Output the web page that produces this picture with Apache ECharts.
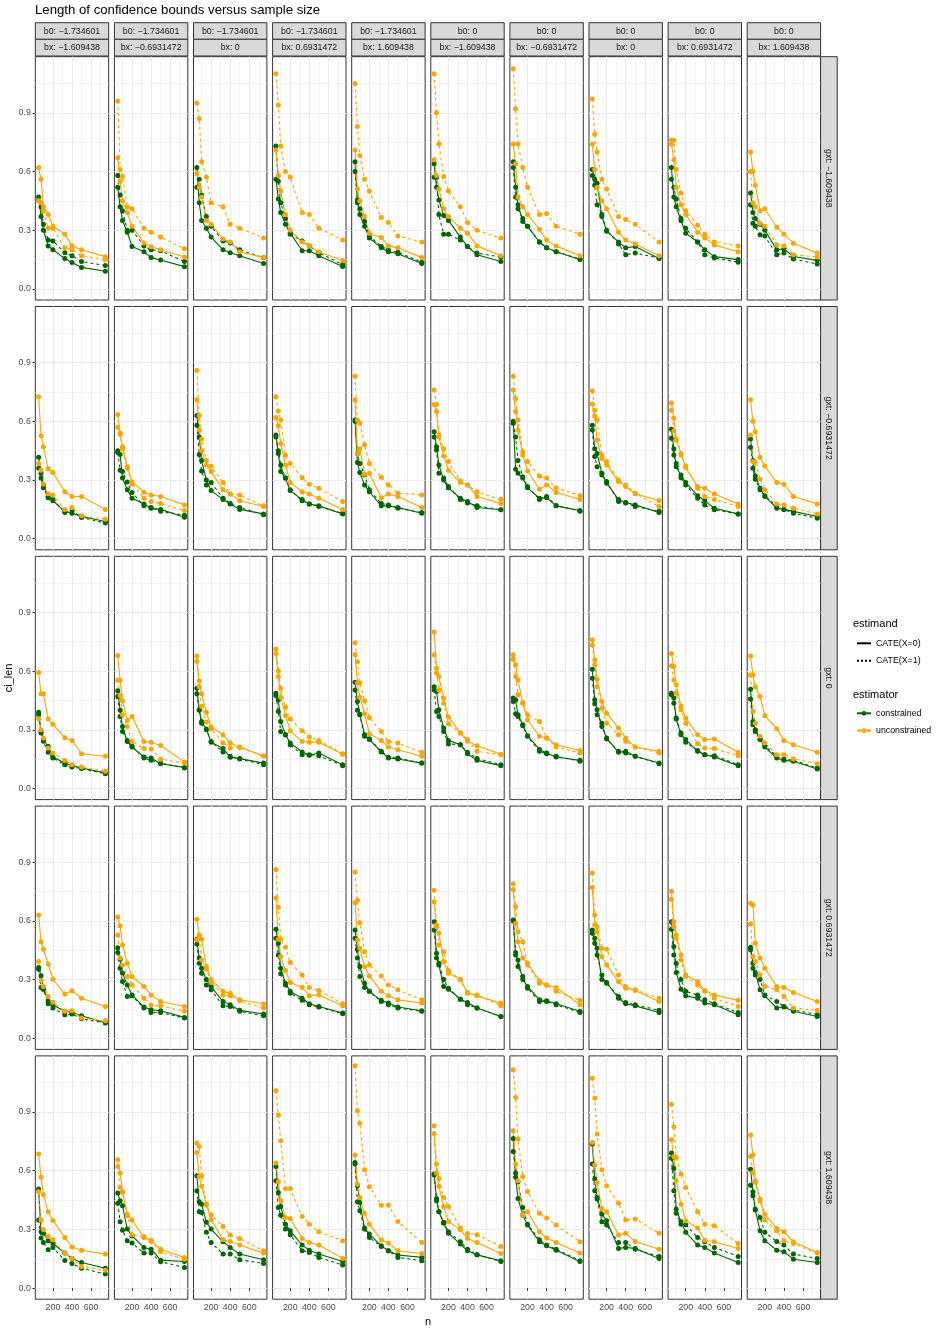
<!DOCTYPE html>
<html>
<head>
<meta charset="utf-8">
<script src="https://cdn.jsdelivr.net/npm/echarts@6/dist/echarts.min.js"></script>
<style>
  html, body { margin: 0; padding: 0; background: #fff; }
  #main { width: 941px; height: 1332px; }
</style>
</head>
<body>
<div id="main"></div>
<script>
// sample sizes (x) shared by every panel
const nValues = [50, 75, 100, 150, 200, 325, 400, 500, 750];

// facet labels: columns (b0, bx) and rows (gxt)
const b0Labels = ['b0: −1.734601', 'b0: −1.734601', 'b0: −1.734601', 'b0: −1.734601', 'b0: −1.734601',
                  'b0: 0', 'b0: 0', 'b0: 0', 'b0: 0', 'b0: 0'];
const bxLabels = ['bx: −1.609438', 'bx: −0.6931472', 'bx: 0', 'bx: 0.6931472', 'bx: 1.609438',
                  'bx: −1.609438', 'bx: −0.6931472', 'bx: 0', 'bx: 0.6931472', 'bx: 1.609438'];
const gxtLabels = ['gxt: −1.609438', 'gxt: −0.6931472', 'gxt: 0', 'gxt: 0.6931472', 'gxt: 1.609438'];

const yTicks = [0, 0.3, 0.6, 0.9];
const yMinor = [0.15, 0.45, 0.75, 1.05];
const xTicks = [200, 400, 600];
const xMinor = [100, 300, 500, 700];

// ci_len, one row of 9 values (per n) for each panel, row-major (gxt row, then column)
const constrainedX0 = [
  // gxt -1.609438
  [0.47,0.37,0.30,0.22,0.20,0.155,0.135,0.11,0.09], [0.52,0.42,0.35,0.29,0.217,0.19,0.16,0.148,0.114],
  [0.62,0.44,0.35,0.31,0.265,0.20,0.185,0.17,0.13], [0.56,0.46,0.39,0.33,0.285,0.195,0.195,0.17,0.115],
  [0.65,0.455,0.38,0.32,0.26,0.21,0.19,0.18,0.13], [0.64,0.52,0.455,0.375,0.35,0.265,0.217,0.175,0.14],
  [0.65,0.52,0.43,0.345,0.32,0.24,0.21,0.19,0.15], [0.61,0.56,0.54,0.37,0.295,0.24,0.21,0.217,0.155],
  [0.62,0.47,0.42,0.35,0.285,0.24,0.20,0.165,0.15], [0.49,0.39,0.36,0.33,0.30,0.20,0.204,0.166,0.146],
  // gxt -0.6931472
  [0.416,0.334,0.275,0.216,0.194,0.14,0.13,0.114,0.088], [0.45,0.43,0.31,0.25,0.207,0.178,0.156,0.15,0.11],
  [0.63,0.52,0.40,0.30,0.246,0.20,0.178,0.15,0.127], [0.53,0.436,0.343,0.31,0.246,0.20,0.177,0.168,0.126],
  [0.606,0.39,0.338,0.275,0.24,0.168,0.168,0.16,0.13], [0.547,0.47,0.377,0.30,0.26,0.207,0.19,0.16,0.148],
  [0.60,0.355,0.334,0.31,0.26,0.207,0.21,0.168,0.144], [0.58,0.46,0.436,0.334,0.284,0.2,0.185,0.173,0.134],
  [0.56,0.46,0.368,0.326,0.287,0.22,0.195,0.156,0.127], [0.51,0.40,0.32,0.258,0.216,0.156,0.15,0.14,0.114],
  // gxt 0
  [0.39,0.292,0.25,0.216,0.161,0.13,0.117,0.105,0.08], [0.50,0.40,0.317,0.24,0.212,0.161,0.156,0.127,0.108],
  [0.513,0.40,0.343,0.304,0.236,0.204,0.16,0.153,0.13], [0.487,0.453,0.343,0.275,0.233,0.187,0.17,0.182,0.122],
  [0.543,0.445,0.38,0.275,0.25,0.187,0.156,0.151,0.13], [0.52,0.496,0.402,0.309,0.246,0.224,0.178,0.144,0.117],
  [0.462,0.453,0.377,0.326,0.27,0.2,0.182,0.161,0.144], [0.61,0.453,0.402,0.317,0.258,0.185,0.19,0.165,0.13],
  [0.487,0.462,0.355,0.275,0.25,0.19,0.173,0.161,0.117], [0.507,0.343,0.30,0.253,0.212,0.156,0.144,0.139,0.10],
  // gxt 0.6931472
  [0.362,0.32,0.26,0.19,0.17,0.138,0.132,0.115,0.08], [0.463,0.404,0.333,0.273,0.222,0.16,0.146,0.141,0.107],
  [0.506,0.41,0.358,0.30,0.265,0.188,0.172,0.143,0.124], [0.557,0.486,0.358,0.282,0.24,0.205,0.177,0.163,0.129],
  [0.554,0.455,0.367,0.282,0.24,0.194,0.18,0.16,0.141], [0.596,0.435,0.375,0.265,0.251,0.2,0.183,0.155,0.112],
  [0.604,0.426,0.40,0.30,0.265,0.197,0.192,0.177,0.138], [0.554,0.511,0.46,0.30,0.285,0.205,0.177,0.166,0.132],
  [0.596,0.469,0.336,0.251,0.217,0.205,0.18,0.172,0.121], [0.465,0.384,0.336,0.248,0.217,0.155,0.16,0.138,0.112],
  // gxt 1.609438
  [0.506,0.288,0.281,0.242,0.228,0.179,0.152,0.131,0.102], [0.486,0.446,0.421,0.302,0.267,0.208,0.199,0.143,0.136],
  [0.574,0.441,0.429,0.336,0.302,0.237,0.208,0.174,0.145], [0.622,0.489,0.417,0.327,0.293,0.22,0.194,0.174,0.136],
  [0.642,0.523,0.438,0.307,0.276,0.216,0.191,0.169,0.157], [0.583,0.458,0.39,0.332,0.281,0.225,0.191,0.17,0.14],
  [0.765,0.566,0.458,0.373,0.322,0.237,0.216,0.194,0.136], [0.736,0.557,0.463,0.378,0.344,0.203,0.208,0.203,0.152],
  [0.69,0.612,0.404,0.339,0.285,0.22,0.208,0.179,0.131], [0.608,0.492,0.399,0.293,0.242,0.194,0.186,0.148,0.131]
];

const constrainedX1 = [
  [0.45,0.42,0.33,0.25,0.245,0.185,0.17,0.14,0.12], [0.58,0.48,0.40,0.30,0.30,0.22,0.20,0.195,0.14],
  [0.52,0.56,0.48,0.37,0.32,0.245,0.235,0.20,0.16], [0.73,0.55,0.44,0.36,0.28,0.245,0.22,0.185,0.125],
  [0.60,0.44,0.41,0.345,0.27,0.217,0.20,0.187,0.137], [0.57,0.57,0.38,0.28,0.28,0.25,0.217,0.183,0.163],
  [0.62,0.47,0.41,0.36,0.32,0.24,0.21,0.19,0.153], [0.58,0.53,0.43,0.38,0.30,0.23,0.175,0.183,0.158],
  [0.56,0.52,0.46,0.36,0.31,0.24,0.175,0.158,0.137], [0.43,0.336,0.32,0.277,0.27,0.175,0.183,0.153,0.127],

  [0.36,0.31,0.26,0.21,0.20,0.134,0.143,0.109,0.08], [0.44,0.35,0.343,0.29,0.236,0.168,0.16,0.14,0.12],
  [0.58,0.43,0.346,0.275,0.287,0.207,0.18,0.16,0.122], [0.52,0.45,0.377,0.31,0.25,0.194,0.178,0.165,0.13],
  [0.60,0.436,0.385,0.326,0.25,0.18,0.173,0.156,0.134], [0.52,0.453,0.334,0.31,0.267,0.2,0.182,0.168,0.148],
  [0.59,0.52,0.40,0.317,0.267,0.2,0.216,0.17,0.14], [0.555,0.42,0.368,0.326,0.292,0.19,0.182,0.165,0.14],
  [0.513,0.428,0.385,0.312,0.275,0.207,0.173,0.148,0.126], [0.467,0.36,0.304,0.25,0.22,0.165,0.15,0.13,0.105],

  [0.377,0.284,0.241,0.185,0.156,0.122,0.11,0.102,0.076], [0.47,0.368,0.292,0.246,0.216,0.156,0.144,0.13,0.105],
  [0.484,0.402,0.334,0.30,0.24,0.187,0.165,0.151,0.122], [0.475,0.394,0.292,0.275,0.224,0.173,0.173,0.168,0.117],
  [0.504,0.40,0.377,0.267,0.255,0.19,0.16,0.156,0.13], [0.504,0.394,0.368,0.292,0.228,0.224,0.185,0.153,0.122],
  [0.445,0.382,0.368,0.321,0.267,0.19,0.178,0.165,0.139], [0.564,0.433,0.377,0.334,0.253,0.19,0.182,0.165,0.127],
  [0.479,0.436,0.36,0.284,0.236,0.194,0.173,0.168,0.122], [0.457,0.326,0.292,0.25,0.219,0.165,0.151,0.144,0.105],

  [0.353,0.26,0.25,0.177,0.155,0.12,0.124,0.10,0.078], [0.438,0.358,0.29,0.214,0.217,0.155,0.132,0.132,0.104],
  [0.482,0.384,0.333,0.273,0.248,0.166,0.163,0.138,0.115], [0.511,0.426,0.33,0.273,0.231,0.194,0.172,0.16,0.126],
  [0.511,0.41,0.316,0.26,0.24,0.188,0.172,0.155,0.138], [0.554,0.41,0.384,0.30,0.256,0.2,0.172,0.155,0.112],
  [0.60,0.438,0.367,0.316,0.256,0.188,0.188,0.172,0.132], [0.537,0.486,0.426,0.324,0.282,0.214,0.183,0.172,0.143],
  [0.557,0.426,0.384,0.30,0.24,0.222,0.197,0.177,0.132], [0.452,0.358,0.324,0.30,0.222,0.188,0.163,0.146,0.121],

  [0.348,0.256,0.233,0.196,0.208,0.141,0.126,0.102,0.072], [0.434,0.339,0.296,0.242,0.23,0.179,0.179,0.135,0.106],
  [0.497,0.39,0.387,0.285,0.233,0.174,0.174,0.145,0.126], [0.549,0.412,0.373,0.302,0.273,0.191,0.182,0.157,0.118],
  [0.634,0.441,0.395,0.302,0.259,0.213,0.191,0.157,0.14], [0.578,0.446,0.39,0.336,0.288,0.237,0.199,0.17,0.136],
  [0.698,0.588,0.543,0.412,0.327,0.247,0.22,0.199,0.14], [0.634,0.497,0.455,0.339,0.322,0.233,0.233,0.199,0.162],
  [0.663,0.497,0.383,0.327,0.324,0.259,0.237,0.208,0.162], [0.526,0.472,0.404,0.361,0.285,0.238,0.22,0.174,0.152]
];

const unconstrainedX0 = [
  [0.62,0.56,0.42,0.38,0.32,0.28,0.22,0.20,0.165], [0.67,0.55,0.45,0.39,0.32,0.235,0.215,0.20,0.163],
  [0.59,0.52,0.47,0.35,0.33,0.255,0.24,0.19,0.16], [0.71,0.58,0.50,0.38,0.30,0.24,0.22,0.19,0.145],
  [0.71,0.51,0.45,0.37,0.285,0.263,0.22,0.21,0.16], [0.66,0.58,0.51,0.41,0.37,0.31,0.285,0.22,0.17],
  [0.74,0.64,0.47,0.42,0.38,0.305,0.25,0.22,0.17], [0.74,0.61,0.52,0.45,0.41,0.29,0.25,0.23,0.17],
  [0.74,0.66,0.52,0.43,0.38,0.29,0.26,0.225,0.19], [0.70,0.60,0.53,0.40,0.41,0.315,0.28,0.234,0.183],

  [0.725,0.526,0.47,0.357,0.338,0.24,0.216,0.216,0.15], [0.635,0.533,0.47,0.368,0.29,0.238,0.224,0.216,0.173],
  [0.71,0.555,0.45,0.377,0.343,0.25,0.228,0.194,0.165], [0.62,0.577,0.487,0.377,0.287,0.24,0.228,0.207,0.15],
  [0.71,0.436,0.46,0.33,0.334,0.21,0.228,0.216,0.16], [0.686,0.65,0.52,0.423,0.35,0.287,0.275,0.216,0.18],
  [0.76,0.65,0.555,0.428,0.346,0.253,0.275,0.236,0.2], [0.688,0.627,0.504,0.41,0.377,0.292,0.267,0.23,0.195],
  [0.694,0.615,0.51,0.436,0.363,0.267,0.258,0.228,0.178], [0.71,0.60,0.547,0.416,0.372,0.287,0.278,0.216,0.178],

  [0.593,0.484,0.484,0.355,0.328,0.26,0.246,0.178,0.165], [0.68,0.555,0.448,0.348,0.368,0.24,0.236,0.22,0.136],
  [0.65,0.55,0.484,0.39,0.314,0.275,0.233,0.212,0.168], [0.69,0.572,0.467,0.373,0.295,0.24,0.237,0.237,0.175],
  [0.685,0.54,0.467,0.382,0.28,0.246,0.212,0.198,0.165], [0.80,0.615,0.572,0.462,0.365,0.284,0.241,0.219,0.175],
  [0.683,0.632,0.555,0.436,0.351,0.267,0.258,0.224,0.194], [0.76,0.657,0.559,0.445,0.385,0.309,0.258,0.212,0.19],
  [0.69,0.623,0.53,0.42,0.36,0.275,0.25,0.253,0.185], [0.677,0.58,0.52,0.47,0.372,0.306,0.246,0.224,0.185],

  [0.63,0.494,0.455,0.38,0.302,0.226,0.243,0.205,0.163], [0.62,0.575,0.477,0.384,0.316,0.265,0.222,0.188,0.163],
  [0.608,0.528,0.506,0.367,0.30,0.24,0.231,0.197,0.177], [0.718,0.506,0.418,0.347,0.285,0.26,0.217,0.222,0.166],
  [0.693,0.503,0.46,0.367,0.319,0.24,0.217,0.197,0.18], [0.698,0.57,0.537,0.392,0.333,0.3,0.234,0.217,0.18],
  [0.76,0.587,0.494,0.41,0.384,0.294,0.273,0.26,0.172], [0.77,0.58,0.545,0.418,0.375,0.29,0.256,0.245,0.188],
  [0.752,0.596,0.528,0.426,0.324,0.29,0.245,0.222,0.194], [0.69,0.681,0.486,0.41,0.358,0.265,0.26,0.234,0.188],

  [0.685,0.567,0.477,0.39,0.346,0.259,0.21,0.194,0.174], [0.656,0.588,0.489,0.378,0.348,0.259,0.245,0.199,0.157],
  [0.693,0.57,0.52,0.43,0.35,0.247,0.238,0.22,0.179], [0.639,0.543,0.446,0.361,0.356,0.254,0.233,0.22,0.152],
  [0.68,0.531,0.463,0.382,0.327,0.247,0.23,0.191,0.177], [0.79,0.588,0.52,0.417,0.341,0.298,0.254,0.233,0.177],
  [0.804,0.634,0.549,0.373,0.39,0.288,0.256,0.233,0.179], [0.744,0.629,0.54,0.407,0.39,0.271,0.281,0.238,0.199],
  [0.758,0.673,0.549,0.429,0.344,0.307,0.245,0.237,0.203], [0.782,0.68,0.549,0.455,0.378,0.305,0.288,0.237,0.182]
];

const unconstrainedX1 = [
  [0.45,0.44,0.40,0.31,0.31,0.21,0.20,0.17,0.15], [0.96,0.61,0.575,0.42,0.41,0.31,0.29,0.265,0.205],
  [0.95,0.87,0.65,0.57,0.44,0.42,0.33,0.31,0.26], [1.10,0.94,0.73,0.60,0.57,0.39,0.38,0.31,0.25],
  [1.05,0.83,0.68,0.56,0.50,0.365,0.34,0.27,0.24], [1.10,0.90,0.74,0.575,0.50,0.42,0.34,0.30,0.26],
  [1.125,0.92,0.74,0.62,0.52,0.38,0.385,0.32,0.28], [0.97,0.79,0.70,0.56,0.51,0.37,0.355,0.33,0.24],
  [0.76,0.76,0.61,0.49,0.40,0.325,0.28,0.24,0.22], [0.60,0.44,0.42,0.336,0.32,0.226,0.22,0.175,0.163],

  [0.385,0.35,0.28,0.23,0.224,0.15,0.16,0.117,0.10], [0.57,0.54,0.46,0.36,0.28,0.207,0.19,0.18,0.144],
  [0.86,0.63,0.51,0.40,0.37,0.287,0.228,0.224,0.168], [0.725,0.652,0.606,0.428,0.385,0.312,0.278,0.258,0.19],
  [0.83,0.606,0.59,0.48,0.385,0.314,0.275,0.233,0.224], [0.76,0.686,0.53,0.46,0.394,0.295,0.275,0.24,0.2],
  [0.83,0.716,0.606,0.445,0.394,0.32,0.31,0.26,0.22], [0.755,0.657,0.606,0.428,0.394,0.30,0.275,0.233,0.165],
  [0.657,0.55,0.504,0.428,0.372,0.258,0.216,0.2,0.165], [0.53,0.394,0.39,0.304,0.25,0.178,0.173,0.156,0.127],

  [0.357,0.30,0.258,0.207,0.182,0.143,0.122,0.11,0.088], [0.555,0.475,0.377,0.317,0.24,0.204,0.202,0.15,0.13],
  [0.677,0.52,0.42,0.34,0.306,0.233,0.207,0.21,0.165], [0.713,0.60,0.513,0.416,0.355,0.295,0.263,0.246,0.178],
  [0.745,0.648,0.54,0.448,0.363,0.292,0.24,0.233,0.185], [0.683,0.59,0.504,0.436,0.331,0.284,0.25,0.19,0.173],
  [0.66,0.572,0.479,0.44,0.377,0.343,0.258,0.212,0.182], [0.733,0.632,0.52,0.41,0.334,0.275,0.241,0.212,0.182],
  [0.627,0.555,0.487,0.402,0.334,0.229,0.207,0.204,0.168], [0.58,0.394,0.334,0.267,0.233,0.173,0.173,0.151,0.127],

  [0.392,0.295,0.265,0.214,0.185,0.138,0.141,0.104,0.09], [0.528,0.41,0.375,0.316,0.273,0.205,0.17,0.166,0.138],
  [0.503,0.52,0.40,0.353,0.285,0.222,0.217,0.192,0.155], [0.863,0.67,0.506,0.465,0.387,0.324,0.26,0.245,0.177],
  [0.85,0.706,0.591,0.443,0.375,0.319,0.273,0.248,0.197], [0.757,0.58,0.477,0.443,0.347,0.3,0.231,0.222,0.166],
  [0.79,0.672,0.545,0.494,0.375,0.282,0.273,0.24,0.194], [0.845,0.63,0.57,0.46,0.455,0.324,0.265,0.248,0.205],
  [0.71,0.57,0.511,0.40,0.316,0.273,0.24,0.205,0.163], [0.584,0.418,0.392,0.324,0.265,0.248,0.214,0.155,0.143],

  [0.492,0.348,0.30,0.264,0.247,0.179,0.152,0.111,0.092], [0.622,0.514,0.492,0.37,0.273,0.264,0.238,0.186,0.148],
  [0.741,0.724,0.574,0.424,0.375,0.315,0.271,0.254,0.191], [1.008,0.884,0.753,0.509,0.509,0.366,0.327,0.288,0.242],
  [1.136,0.906,0.843,0.605,0.518,0.424,0.424,0.341,0.233], [0.83,0.634,0.56,0.463,0.417,0.307,0.279,0.273,0.213],
  [1.116,0.974,0.762,0.571,0.494,0.382,0.358,0.322,0.237], [1.072,0.971,0.787,0.605,0.523,0.434,0.348,0.353,0.281],
  [0.94,0.825,0.668,0.583,0.514,0.39,0.327,0.319,0.228], [0.673,0.591,0.54,0.446,0.349,0.293,0.242,0.228,0.179]
];

// ---- layout ----
const FONT = '"Liberation Sans", Arial, Helvetica, sans-serif';
const GREEN = '#006400';
const ORANGE = '#FFA500';
const GRID_COLOR = '#EBEBEB';
const PANEL_LEFT = 35.3, PANEL_TOP = 56.7, PANEL_W = 73.4, PANEL_H = 243.3;
const COL_STEP = 79.1, ROW_STEP = 249.8;
const X_MIN = 15, X_MAX = 785;
const Y_MIN = -0.0565, Y_MAX = 1.1865;
const NROW = gxtLabels.length, NCOL = b0Labels.length;

const myChart = echarts.init(document.getElementById('main'), null, { renderer: 'canvas' });

const grid = [], xAxis = [], yAxis = [], series = [], graphic = [];

function makeLine(name, panel, values, color, dashed) {
  return {
    type: 'line',
    name: name,
    xAxisIndex: 2 * panel,
    yAxisIndex: 2 * panel,
    data: nValues.map((n, i) => [n, values[i]]),
    symbol: 'circle',
    symbolSize: 5,
    showSymbol: true,
    itemStyle: { color: color },
    lineStyle: { color: color, width: 1.1, type: dashed ? [3, 3] : 'solid' },
    emphasis: { disabled: true },
    silent: true,
    animation: false
  };
}

for (let r = 0; r < NROW; r++) {
  for (let c = 0; c < NCOL; c++) {
    const p = r * NCOL + c;
    const left = PANEL_LEFT + c * COL_STEP;
    const top = PANEL_TOP + r * ROW_STEP;
    grid.push({
      left: left, top: top, width: PANEL_W, height: PANEL_H,
      show: true, backgroundColor: '#fff', borderColor: '#333333', borderWidth: 1
    });
    const bottomRow = r === NROW - 1, firstCol = c === 0;
    // major x
    xAxis.push({
      gridIndex: p, type: 'value', min: X_MIN, max: X_MAX,
      axisLine: { show: false },
      axisTick: { show: bottomRow, customValues: xTicks, length: 2.75, lineStyle: { color: '#333333', width: 1 } },
      axisLabel: { show: bottomRow, customValues: xTicks, fontSize: 8.8, color: '#4D4D4D', fontFamily: FONT, margin: 4 },
      splitLine: { show: true, lineStyle: { color: GRID_COLOR, width: 1.2 } }
    });
    // minor x
    xAxis.push({
      gridIndex: p, type: 'value', min: X_MIN, max: X_MAX,
      axisLine: { show: false },
      axisTick: { show: false, customValues: xMinor },
      axisLabel: { show: false, customValues: xMinor },
      splitLine: { show: true, lineStyle: { color: GRID_COLOR, width: 0.6 } }
    });
    // major y
    yAxis.push({
      gridIndex: p, type: 'value', min: Y_MIN, max: Y_MAX,
      axisLine: { show: false },
      axisTick: { show: firstCol, customValues: yTicks, length: 2.75, lineStyle: { color: '#333333', width: 1 } },
      axisLabel: {
        show: firstCol, customValues: yTicks, fontSize: 8.8, color: '#4D4D4D', fontFamily: FONT, margin: 4.5,
        formatter: v => Number(v).toFixed(1)
      },
      splitLine: { show: true, lineStyle: { color: GRID_COLOR, width: 1.2 } }
    });
    // minor y
    yAxis.push({
      gridIndex: p, type: 'value', min: Y_MIN, max: Y_MAX,
      axisLine: { show: false },
      axisTick: { show: false, customValues: yMinor },
      axisLabel: { show: false, customValues: yMinor },
      splitLine: { show: true, lineStyle: { color: GRID_COLOR, width: 0.6 } }
    });

    series.push(makeLine('constrained', p, constrainedX0[p], GREEN, false));
    series.push(makeLine('constrained', p, constrainedX1[p], GREEN, true));
    series.push(makeLine('unconstrained', p, unconstrainedX0[p], ORANGE, false));
    series.push(makeLine('unconstrained', p, unconstrainedX1[p], ORANGE, true));
  }
}

// legend-only entries for the line type (no data)
series.push({
  type: 'line', name: 'CATE(X=0)', xAxisIndex: 0, yAxisIndex: 0, data: [], symbol: 'none',
  itemStyle: { color: '#000' }, lineStyle: { color: '#000', width: 1.1, type: 'solid' }
});
series.push({
  type: 'line', name: 'CATE(X=1)', xAxisIndex: 0, yAxisIndex: 0, data: [], symbol: 'none',
  itemStyle: { color: '#000' }, lineStyle: { color: '#000', width: 1.1, type: [2, 2] }
});

// facet strips
const stripStyle = { fill: '#D9D9D9', stroke: '#333333', lineWidth: 1 };
const stripText = { fontSize: 8.8, fill: '#1A1A1A', fontFamily: FONT, align: 'center', verticalAlign: 'middle' };
for (let c = 0; c < NCOL; c++) {
  const left = PANEL_LEFT + c * COL_STEP;
  graphic.push({ type: 'rect', shape: { x: left, y: 22.7, width: PANEL_W, height: 16.6 }, style: stripStyle, silent: true });
  graphic.push({ type: 'rect', shape: { x: left, y: 39.3, width: PANEL_W, height: 16.7 }, style: stripStyle, silent: true });
  graphic.push({ type: 'text', x: left + PANEL_W / 2, y: 31.2, style: Object.assign({ text: b0Labels[c] }, stripText), silent: true });
  graphic.push({ type: 'text', x: left + PANEL_W / 2, y: 47.8, style: Object.assign({ text: bxLabels[c] }, stripText), silent: true });
}
const stripX = PANEL_LEFT + (NCOL - 1) * COL_STEP + PANEL_W;
for (let r = 0; r < NROW; r++) {
  const top = PANEL_TOP + r * ROW_STEP;
  graphic.push({ type: 'rect', shape: { x: stripX, y: top, width: 16.6, height: PANEL_H }, style: stripStyle, silent: true });
  graphic.push({
    type: 'text', x: stripX + 8.3, y: top + PANEL_H / 2, rotation: -Math.PI / 2,
    style: Object.assign({ text: gxtLabels[r] }, stripText), silent: true
  });
}

// axis titles and legend titles
graphic.push({
  type: 'text', x: 9, y: PANEL_TOP + (NROW * ROW_STEP - (ROW_STEP - PANEL_H)) / 2, rotation: Math.PI / 2,
  style: { text: 'ci_len', fontSize: 11, fill: '#000', fontFamily: FONT, align: 'center', verticalAlign: 'middle' }, silent: true
});
graphic.push({
  type: 'text', x: PANEL_LEFT + ((NCOL - 1) * COL_STEP + PANEL_W) / 2, y: 1322,
  style: { text: 'n', fontSize: 11, fill: '#000', fontFamily: FONT, align: 'center', verticalAlign: 'middle' }, silent: true
});
graphic.push({
  type: 'text', x: 853, y: 624,
  style: { text: 'estimand', fontSize: 11, fill: '#000', fontFamily: FONT, align: 'left', verticalAlign: 'middle' }, silent: true
});
graphic.push({
  type: 'text', x: 853, y: 694.5,
  style: { text: 'estimator', fontSize: 11, fill: '#000', fontFamily: FONT, align: 'left', verticalAlign: 'middle' }, silent: true
});

const legendText = { fontSize: 8.8, color: '#000', fontFamily: FONT, lineHeight: 14 };

const option = {
  animation: false,
  textStyle: { fontFamily: FONT },
  title: {
    text: 'Length of confidence bounds versus sample size',
    left: 30, top: -1,
    textStyle: { fontSize: 13.2, fontWeight: 'normal', color: '#000', fontFamily: FONT }
  },
  legend: [
    {
      data: [
        { name: 'CATE(X=0)', itemStyle: { opacity: 0 } },
        { name: 'CATE(X=1)', itemStyle: { opacity: 0 } }
      ],
      orient: 'vertical', left: 851, top: 631.3,
      itemWidth: 14, itemHeight: 6, itemGap: 3.5, selectedMode: false, textStyle: legendText
    },
    {
      data: ['constrained', 'unconstrained'], orient: 'vertical', left: 851, top: 701.3,
      itemWidth: 14, itemHeight: 6, itemGap: 3.3, selectedMode: false, textStyle: legendText
    }
  ],
  grid: grid,
  xAxis: xAxis,
  yAxis: yAxis,
  series: series,
  graphic: graphic
};

myChart.setOption(option);
</script>
</body>
</html>
